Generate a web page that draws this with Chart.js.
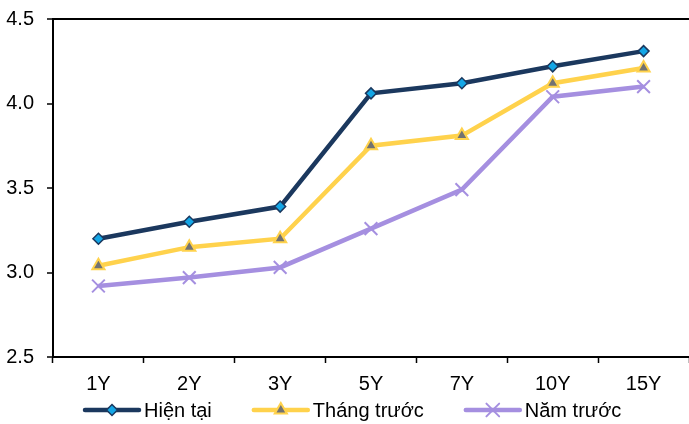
<!DOCTYPE html>
<html>
<head>
<meta charset="utf-8">
<script src="https://cdn.jsdelivr.net/npm/chart.js@4/dist/chart.umd.min.js"></script>
<style>
  html, body { margin: 0; padding: 0; background: #fff; overflow: hidden; }
  #wrap { width: 689px; height: 424px; position: relative; }
</style>
</head>
<body>
<div id="wrap"><canvas id="c" width="689" height="424"></canvas></div>
<script>
// Kỳ hạn
const categories = ['1Y', '2Y', '3Y', '5Y', '7Y', '10Y', '15Y'];
// Lợi suất (%)
const hienTai   = [3.20, 3.30, 3.39, 4.06, 4.12, 4.22, 4.31];
const thangTruoc = [3.04, 3.15, 3.20, 3.75, 3.81, 4.12, 4.21];
const namTruoc  = [2.92, 2.97, 3.03, 3.26, 3.49, 4.04, 4.10];
const seriesNames = ['Hiện tại', 'Tháng trước', 'Năm trước'];
const yTicks = [2.5, 3.0, 3.5, 4.0, 4.5];

const FONT = '"Liberation Sans", Arial, sans-serif';
const NAVY = '#1B385E';
const CYAN = '#14A6E6';
const YELLOW = '#FFD24C';
const GREY = '#727272';
const LAVENDER = '#A58FE0';

function drawMarker(ctx, style, x, y, r, fill, stroke, bw) {
  ctx.save();
  ctx.beginPath();
  if (style === 'rectRot') {
    ctx.moveTo(x, y - r); ctx.lineTo(x + r, y); ctx.lineTo(x, y + r); ctx.lineTo(x - r, y); ctx.closePath();
  } else if (style === 'triangle') {
    ctx.moveTo(x, y - r); ctx.lineTo(x + r * 0.866, y + r * 0.5); ctx.lineTo(x - r * 0.866, y + r * 0.5); ctx.closePath();
  } else if (style === 'crossRot') {
    const d = r * 0.7071;
    ctx.moveTo(x - d, y - d); ctx.lineTo(x + d, y + d);
    ctx.moveTo(x + d, y - d); ctx.lineTo(x - d, y + d);
  }
  if (fill && style !== 'crossRot') { ctx.fillStyle = fill; ctx.fill(); }
  ctx.lineWidth = bw; ctx.strokeStyle = stroke; ctx.stroke();
  ctx.restore();
}

// Chú thích dưới trục hoành: đoạn thẳng + điểm đánh dấu + tên chuỗi
const bottomLegend = {
  id: 'bottomLegend',
  afterDraw(chart) {
    const ctx = chart.ctx;
    const y = 410;
    let x = 85;
    ctx.save();
    ctx.font = '20px ' + FONT;
    ctx.textBaseline = 'middle';
    ctx.fillStyle = '#000';
    chart.data.datasets.forEach(ds => {
      ctx.beginPath();
      ctx.moveTo(x, y); ctx.lineTo(x + 54, y);
      ctx.lineWidth = ds.borderWidth; ctx.strokeStyle = ds.borderColor; ctx.lineCap = 'round';
      ctx.stroke();
      drawMarker(ctx, ds.pointStyle, x + 27, y, ds.pointRadius, ds.pointBackgroundColor, ds.pointBorderColor, ds.pointBorderWidth);
      ctx.fillStyle = '#000';
      ctx.fillText(ds.label, x + 59, y + 1);
      x += 59 + ctx.measureText(ds.label).width + 42;
    });
    ctx.restore();
  }
};

new Chart(document.getElementById('c'), {
  type: 'line',
  data: {
    labels: categories,
    datasets: [
      { label: seriesNames[0], data: hienTai, borderColor: NAVY, borderWidth: 4.5,
        pointStyle: 'rectRot', pointRadius: 5.5, pointBackgroundColor: CYAN, pointBorderColor: NAVY, pointBorderWidth: 1.5 },
      { label: seriesNames[1], data: thangTruoc, borderColor: YELLOW, borderWidth: 4.5,
        pointStyle: 'triangle', pointRadius: 7, pointBackgroundColor: GREY, pointBorderColor: YELLOW, pointBorderWidth: 2 },
      { label: seriesNames[2], data: namTruoc, borderColor: LAVENDER, borderWidth: 4.5,
        pointStyle: 'crossRot', pointRadius: 9, pointBackgroundColor: LAVENDER, pointBorderColor: LAVENDER, pointBorderWidth: 2 }
    ]
  },
  options: {
    responsive: false,
    animation: false,
    clip: false,
    layout: { autoPadding: false, padding: { top: 19, right: 0, bottom: 27, left: 0 } },
    plugins: { legend: { display: false }, tooltip: { enabled: false } },
    elements: { line: { tension: 0 } },
    scales: {
      x: {
        type: 'category',
        offset: true,
        grid: { offset: true, drawOnChartArea: false, tickLength: 6, tickColor: '#000', tickWidth: 1.5 },
        border: { color: '#000', width: 2 },
        ticks: { color: '#000', font: { family: FONT, size: 20 }, padding: 9, maxRotation: 0 },
        afterFit(scale) {
          scale.height = 40;
          scale.paddingLeft = 0; scale.paddingRight = 0;
        }
      },
      y: {
        min: 2.5, max: 4.5,
        afterBuildTicks(scale) { scale.ticks = yTicks.map(v => ({ value: v })); },
        grid: {
          drawOnChartArea: true,
          color: c => (c.tick && c.tick.value === 4.5 ? '#000' : 'rgba(0,0,0,0)'),
          lineWidth: 2,
          tickLength: 6, tickColor: '#000', tickWidth: 1.5
        },
        border: { color: '#000', width: 2 },
        ticks: { color: '#000', font: { family: FONT, size: 20 }, padding: 13,
          callback: v => Number(v).toFixed(1) },
        afterFit(scale) {
          scale.width = 53;
          scale.paddingTop = 0; scale.paddingBottom = 0;
        }
      }
    }
  },
  plugins: [bottomLegend]
});
</script>
</body>
</html>
